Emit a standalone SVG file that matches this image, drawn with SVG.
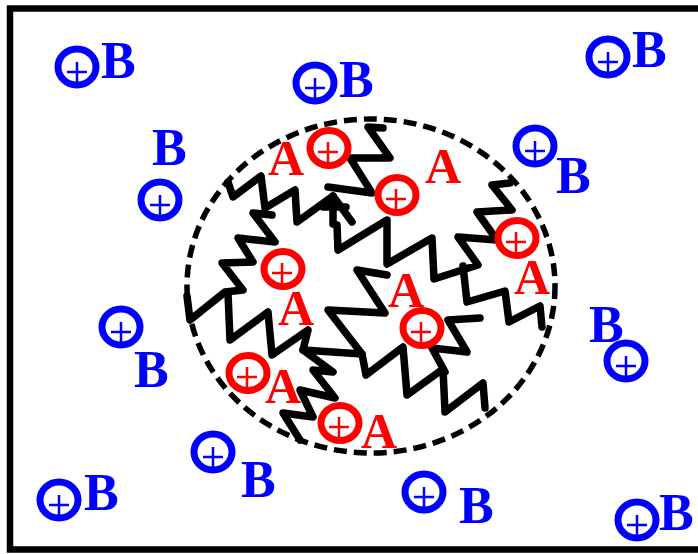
<svg xmlns="http://www.w3.org/2000/svg" width="698" height="554" viewBox="0 0 698 554">
  <style>
    .frame { fill: none; stroke: #000; stroke-width: 6.5; }
    .region { fill: none; stroke: #000; stroke-width: 5.5; stroke-dasharray: 13 7; }
    .chain { fill: none; stroke: #000; stroke-width: 7.5; stroke-linejoin: round; stroke-linecap: round; }
    .ringA { fill: #fff; stroke: #f00; stroke-width: 7; }
    .ringB { fill: #fff; stroke: #00f; stroke-width: 7; }
    .plusA { stroke: #f00; stroke-width: 2.5; fill: none; }
    .plusB { stroke: #00f; stroke-width: 2.5; fill: none; }
    .lblA { font-family: "Liberation Serif", "Times New Roman", serif; font-weight: bold; font-size: 50px; fill: #f00; }
    .lblB { font-family: "Liberation Serif", "Times New Roman", serif; font-weight: bold; font-size: 52px; fill: #00f; }
  </style>
  <defs>
    <g id="ionA">
      <ellipse cx="0" cy="0" rx="19" ry="17.5" class="ringA"/>
      <path d="M-11,4 H9 M-1,-6 V14" class="plusA"/>
    </g>
    <g id="ionB">
      <ellipse cx="0" cy="0" rx="19" ry="18" class="ringB"/>
      <path d="M-10,5 H10 M0,-5 V15" class="plusB"/>
    </g>
  </defs>

  <rect id="frame" x="10" y="8.5" width="700" height="541" class="frame"/>

  <ellipse id="domain" cx="371" cy="286" rx="184" ry="167" class="region"/>

  <g id="connectors">
    <polyline class="chain" points="228,182 233,197 261,176 265,208 295,190 297,222 333,196 352,222"/>
    <polyline class="chain" points="333,196 333,224"/>
    <polyline class="chain" points="323,207 346,207"/>
    <polyline class="chain" points="383,128 368,127 390,158 350,158 372,193 328,187"/>
    <polyline class="chain" points="510,183 492,185 512,210 477,212 497,240 458,237 478,265 434,279 432,238 387,264 387,220 338,250 337,225"/>
    <polyline class="chain" points="463,266 467,302 505,291 509,322 540,306 542,327"/>
    <polyline class="chain" points="445,372 432,348 467,352 448,320 480,318"/>
    <polyline class="chain" points="387,275 357,270 385,313 328,310 362,354 303,350 333,372 313,370 335,398 300,390 313,417 283,413 300,440"/>
    <polyline class="chain" points="228,293 230,340 268,312 272,355 308,330 303,350"/>
    <polyline class="chain" points="362,354 366,375 403,347 407,395 443,369 445,412 483,383 485,408"/>
    <polyline class="chain" points="272,215 253,213 275,242 238,238 253,262 222,263 243,290 225,292 190,320 187,296"/>
  </g>

  <g id="a1"><use href="#ionA" x="329" y="148"/><text class="lblA" x="268" y="175">A</text></g>
  <g id="a2"><use href="#ionA" x="397" y="195"/><text class="lblA" x="425" y="183">A</text></g>
  <g id="a3"><use href="#ionA" x="517" y="238"/><text class="lblA" x="514" y="294">A</text></g>
  <g id="a4"><use href="#ionA" x="283" y="269"/><text class="lblA" x="278" y="325">A</text></g>
  <g id="a5"><use href="#ionA" x="422" y="328"/><text class="lblA" x="388" y="307">A</text></g>
  <g id="a6"><use href="#ionA" x="248" y="373"/><text class="lblA" x="265" y="403">A</text></g>
  <g id="a7"><use href="#ionA" x="340" y="423"/><text class="lblA" x="361" y="448">A</text></g>

  <g id="b1"><use href="#ionB" x="77" y="67"/><text class="lblB" x="101" y="78">B</text></g>
  <g id="b2"><use href="#ionB" x="315" y="83"/><text class="lblB" x="339" y="97">B</text></g>
  <g id="b3"><use href="#ionB" x="608" y="57"/><text class="lblB" x="632" y="67">B</text></g>
  <g id="b4"><use href="#ionB" x="160" y="200"/><text class="lblB" x="152" y="165">B</text></g>
  <g id="b5"><use href="#ionB" x="535" y="146"/><text class="lblB" x="556" y="193">B</text></g>
  <g id="b6"><use href="#ionB" x="121" y="327"/><text class="lblB" x="134" y="387">B</text></g>
  <g id="b7"><use href="#ionB" x="626" y="361"/><text class="lblB" x="589" y="342">B</text></g>
  <g id="b8"><use href="#ionB" x="213" y="452"/><text class="lblB" x="241" y="497">B</text></g>
  <g id="b9"><use href="#ionB" x="424" y="492"/><text class="lblB" x="459" y="523">B</text></g>
  <g id="b10"><use href="#ionB" x="59" y="500"/><text class="lblB" x="84" y="510">B</text></g>
  <g id="b11"><use href="#ionB" x="637" y="520"/><text class="lblB" x="659" y="530">B</text></g>
</svg>
